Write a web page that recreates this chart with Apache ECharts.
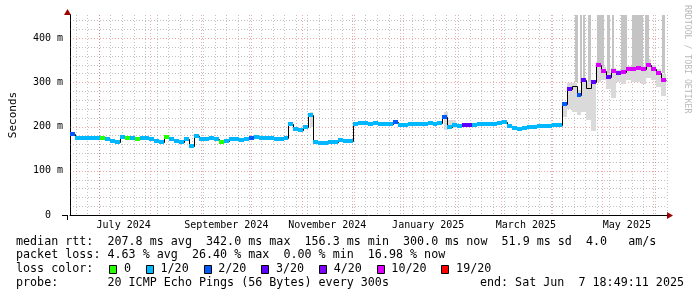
<!DOCTYPE html>
<html><head><meta charset="utf-8">
<script src="https://cdn.jsdelivr.net/npm/echarts@6/dist/echarts.min.js"></script>
<style>html,body{margin:0;padding:0;background:#fff}#c{width:697px;height:297px}</style>
</head><body><div id="c"></div>
<script>
const DAY = 86400000;
// time window of the plot (left edge and span in days)
const xStart = Date.UTC(2024, 5, 13, 14, 0);
const xSpanDays = 360.66;
const sampleDays = 3;
const yMax = 452;

// median rtt in ms, one value per 3-day sample
const median = [
  184,175,175,174,174,173,173,171,168,165,
  177,173,174,172,175,173,172,168,166,176,
  172,168,165,171,156,178,172,172,173,171,
  166,168,172,171,170,171,175,176,173,173,
  173,172,172,173,205,195,193,198,225,164,
  162,163,164,166,169,167,168,205,208,207,
  206,207,205,205,206,210,203,204,205,206,
  205,206,207,206,207,222,200,203,202,203,
  203,204,205,206,205,206,207,210,201,196,
  195,197,199,200,201,201,202,203,203,250,
  285,292,272,305,288,300,338,326,312,326,
  320,324,330,331,333,330,339,330,322,305
];
// loss colour class per sample (index into lossColors, -1 = none)
const loss = [
  2,1,1,1,1,1,0,1,1,1,
  1,0,1,0,1,1,1,1,1,0,
  1,1,1,1,1,1,1,1,1,1,
  0,1,1,1,1,1,2,1,1,1,
  1,1,1,1,1,1,1,1,1,1,
  1,1,1,1,1,1,1,1,1,1,
  1,1,1,1,1,2,1,1,1,1,
  1,1,1,1,1,2,1,1,1,3,
  3,1,1,1,1,1,1,1,1,1,
  1,1,1,1,1,1,1,1,1,2,
  3,-1,2,3,-1,3,5,5,3,5,
  4,5,5,5,5,5,5,5,5,5
];
const lossColors = ['#26ff00','#00b8ff','#0059ff','#5e00ff','#7e00ff','#dd00ff','#ff0000'];
const lossLabels = ['0','1/20','2/20','3/20','4/20','10/20','19/20'];

// smoke: [startDay, endDay, low ms, high ms] (days from plot start)
const smokeSpread = [
  [144.9,146.7,200,232],[226.0,228.4,192,232],[228.4,233.2,196,214],[241.0,244.0,200,209],
  [297,300,222,255],[300,303,240,298],[303,306,232,298],[306,309,225,282],[309,312,232,310],
  [312,315,215,300],[315,318,190,305],[318,321,300,345],[321,324,305,335],[324,327,285,320],
  [327,330,265,332],[330,333,300,328],[333,336,295,330],[336,339,305,336],[339,342,300,336],
  [342,345,300,338],[345,348,295,336],[348,351,310,352],[351,354,305,340],[354,357,290,330],
  [357,360,270,318]
];
// smoke columns that run off the top: [startDay, endDay, low ms]
const smokeTall = [
  [304.8,306.6,300],[308.4,309.6,300],[310.2,311.4,300],[313.2,315.0,300],[318.6,322.8,335],
  [324.6,326.4,320],[327.6,328.8,325],[333.0,336.6,325],[339.6,346.2,330],[347.4,349.8,335],
  [357.7,359.5,320]
];

const xTickDates = ['2024-07-16','2024-09-16','2024-11-16','2025-01-16','2025-03-16','2025-05-16'];
const xTickLabels = ['July 2024','September 2024','November 2024','January 2025','March 2025','May 2025'];
const monthLineDates = ['2024-07-01','2024-08-01','2024-09-01','2024-10-01','2024-11-01','2024-12-01',
  '2025-01-01','2025-02-01','2025-03-01','2025-04-01','2025-05-01','2025-06-01'];
const firstWeekLine = '2024-06-17';
const yTicks = [0,100,200,300,400];
const yTickLabels = ['0  ','100 m','200 m','300 m','400 m'];

const statsRtt = 'median rtt:  207.8 ms avg  342.0 ms max  156.3 ms min  300.0 ms now  51.9 ms sd  4.0   am/s';
const statsLoss = 'packet loss: 4.63 % avg  26.40 % max  0.00 % min  16.98 % now';
const probeText = 'probe:       20 ICMP Echo Pings (56 Bytes) every 300s';
const endText = 'end: Sat Jun  7 18:49:11 2025';

// ---------- build ----------
const xEnd = xStart + xSpanDays * DAY;
const tOf = d => xStart + d * DAY;
const xTickTimes = xTickDates.map(Date.parse);
const monthTimes = monthLineDates.map(Date.parse);
const weekTimes = [];
for (let t = Date.parse(firstWeekLine); t < xEnd; t += 7 * DAY) weekTimes.push(t);
const minorY = [], majorY = [];
for (let v = 20; v < yMax; v += 20) (v % 100 === 0 ? majorY : minorY).push(v);

const medianItems = median.map((v, i) => [tOf(i*sampleDays), tOf((i+1)*sampleDays), v, i > 0 ? median[i-1] : v]);
const lossItems = [];
median.forEach((v, i) => { if (loss[i] >= 0) lossItems.push([tOf(i*sampleDays), tOf((i+1)*sampleDays), v, loss[i]]); });
const spreadItems = smokeSpread.map(s => [tOf(s[0]), tOf(s[1]), s[2], s[3]]);
const tallItems = smokeTall.map(s => [tOf(s[0]), tOf(s[1]), s[2], yMax + 20]);

const MONO = '"DejaVu Sans Mono", monospace';

function vLine(color) {
  return function (params, api) {
    const cs = params.coordSys;
    const x = Math.round(api.coord([api.value(0), 0])[0]) + 0.5;
    return {type:'line', shape:{x1:x, y1:cs.y, x2:x, y2:cs.y + cs.height},
      style:{stroke:color, lineWidth:1, lineDash:[1,2]}};
  };
}
function hLine(color) {
  return function (params, api) {
    const cs = params.coordSys;
    const y = Math.round(api.coord([xStart, api.value(1)])[1]) + 0.5;
    return {type:'line', shape:{x1:cs.x, y1:y, x2:cs.x + cs.width, y2:y},
      style:{stroke:color, lineWidth:1, lineDash:[1,2]}};
  };
}
function rectRender(fill) {
  return function (params, api) {
    const p0 = api.coord([api.value(0), api.value(3)]);
    const p1 = api.coord([api.value(1), api.value(2)]);
    const x0 = Math.round(p0[0]), x1 = Math.round(p1[0]);
    const y0 = Math.round(p0[1]), y1 = Math.round(p1[1]);
    return {type:'rect', shape:{x:x0, y:y0, width:Math.max(1, x1-x0), height:Math.max(1, y1-y0)}, style:{fill}};
  };
}
const GRID_MINOR = 'rgba(120,120,120,0.45)';
const GRID_MAJOR = 'rgba(230,60,60,0.45)';

const series = [
  {type:'custom', name:'weekGrid', data: weekTimes.map(t => [t, 0]), renderItem: vLine(GRID_MINOR), z:1, silent:true},
  {type:'custom', name:'minorY', data: minorY.map(v => [xStart, v]), renderItem: hLine(GRID_MINOR), z:1, silent:true},
  {type:'custom', name:'monthGrid', data: monthTimes.map(t => [t, 0]), renderItem: vLine(GRID_MAJOR), z:2, silent:true},
  {type:'custom', name:'majorY', data: majorY.map(v => [xStart, v]), renderItem: hLine(GRID_MAJOR), z:2, silent:true},
  {type:'custom', name:'smoke', data: spreadItems, renderItem: rectRender('#dadada'), clip:true, z:3,
    encode:{x:[0,1], y:[2,3]}},
  {type:'custom', name:'smokeTall', data: tallItems, renderItem: rectRender('#c4c4c4'), clip:true, z:4,
    encode:{x:[0,1], y:[2,3]}},
  {type:'custom', name:'median', data: medianItems, clip:true, z:5, encode:{x:[0,1], y:[2,3]},
    renderItem: function (params, api) {
      const X0 = Math.round(api.coord([api.value(0), 0])[0]) + 0.5;
      const X1 = Math.round(api.coord([api.value(1), 0])[0]) + 0.5;
      const Y = Math.round(api.coord([0, api.value(2)])[1]) + 0.5;
      const YP = Math.round(api.coord([0, api.value(3)])[1]) + 0.5;
      return {type:'polyline', shape:{points:[[X0, YP],[X0, Y],[X1, Y]]},
        style:{stroke:'#000', lineWidth:1, fill:null}};
    }},
  {type:'custom', name:'loss', data: lossItems, clip:true, z:6, encode:{x:[0,1], y:2},
    renderItem: function (params, api) {
      const x0 = Math.round(api.coord([api.value(0), 0])[0]);
      const x1 = Math.round(api.coord([api.value(1), 0])[0]);
      const y = Math.round(api.coord([0, api.value(2)])[1]);
      return {type:'rect', shape:{x:x0, y:y - 2, width:x1 - x0, height:4},
        style:{fill: lossColors[api.value(3)]}};
    }}
];

// legend / text graphics
const CW = 7.05;
const rowY = [241.7, 255.3, 269.3, 283.3];
const graphics = [
  {type:'text', x:16, y:rowY[0], style:{text:statsRtt, font:'11.7px ' + MONO, fill:'#000', verticalAlign:'middle'}},
  {type:'text', x:16, y:rowY[1], style:{text:statsLoss, font:'11.7px ' + MONO, fill:'#000', verticalAlign:'middle'}},
  {type:'text', x:16, y:rowY[2], style:{text:'loss color:', font:'11.7px ' + MONO, fill:'#000', verticalAlign:'middle'}},
  {type:'text', x:16, y:rowY[3], style:{text:probeText, font:'11.7px ' + MONO, fill:'#000', verticalAlign:'middle'}},
  {type:'text', x:684, y:rowY[3], style:{text:endText, font:'11.7px ' + MONO, fill:'#000', align:'right', verticalAlign:'middle'}},
  {type:'text', x:687, y:5, rotation:-Math.PI/2, style:{text:'RRDTOOL / TOBI OETIKER', font:'8.2px ' + MONO, fill:'#b8b8b8', align:'left', verticalAlign:'middle'}},
  {type:'polygon', shape:{points:[[667,212],[667,219],[673,215.5]]}, style:{fill:'#a00000'}},
  {type:'polygon', shape:{points:[[64,15],[71,15],[67.5,9]]}, style:{fill:'#a00000'}},
  {type:'line', shape:{x1:67.5, y1:215, x2:67.5, y2:220}, style:{stroke:'#000', lineWidth:1}},
  {type:'line', shape:{x1:62, y1:215.5, x2:67, y2:215.5}, style:{stroke:'#000', lineWidth:1}}
];
let sx = 109.4;
lossLabels.forEach((lab, k) => {
  graphics.push({type:'rect', shape:{x:Math.round(sx)+0.5, y:265.5, width:7, height:8},
    style:{fill:lossColors[k], stroke:'#000', lineWidth:1}});
  graphics.push({type:'text', x:sx + 14.6, y:rowY[2], style:{text:lab, font:'11.7px ' + MONO, fill:'#000', verticalAlign:'middle'}});
  sx = sx + 14.6 + lab.length * CW + 14.9;
});

const chart = echarts.init(document.getElementById('c'), null, {renderer:'canvas'});
chart.setOption({
  animation:false,
  backgroundColor:'#fff',
  grid:{left:67, top:15, width:600, height:200},
  xAxis:{type:'value', min:xStart, max:xEnd,
    axisLine:{show:true, onZero:false, lineStyle:{color:'#000', width:1}},
    axisTick:{show:false}, splitLine:{show:false},
    axisLabel:{customValues:xTickTimes, color:'#000', fontFamily:MONO, fontSize:10, margin:5,
      formatter: v => { const k = xTickTimes.indexOf(v); return k >= 0 ? xTickLabels[k] : ''; }}},
  yAxis:{type:'value', min:0, max:yMax, interval:100,
    axisLine:{show:true, onZero:false, lineStyle:{color:'#000', width:1}},
    axisTick:{show:false}, splitLine:{show:false},
    axisLabel:{color:'#000', fontFamily:MONO, fontSize:10, margin:7, showMaxLabel:false,
      formatter: v => { const k = yTicks.indexOf(v); return k >= 0 ? yTickLabels[k] : ''; }},
    name:'Seconds', nameLocation:'middle', nameGap:51,
    nameTextStyle:{color:'#000', fontFamily:MONO, fontSize:11}},
  series: series,
  graphic: graphics
});
</script></body></html>
